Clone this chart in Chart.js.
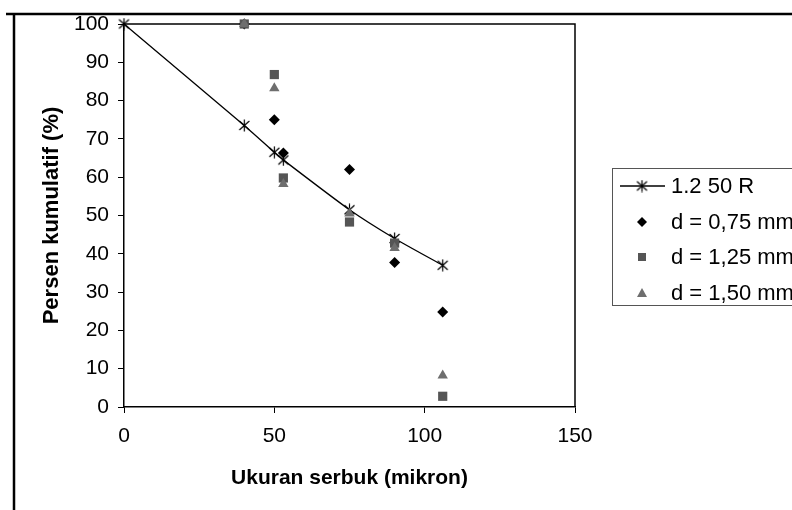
<!DOCTYPE html>
<html>
<head>
<meta charset="utf-8">
<script src="https://cdn.jsdelivr.net/npm/chart.js@4"></script>
<style>
  html, body { margin: 0; padding: 0; background: #fff; }
</style>
</head>
<body>
<canvas id="chart" width="792" height="510"></canvas>
<script>
// Cumulative percent vs powder size
const lineX = [0, 40, 50, 53, 75, 90, 106];
const lineY = [100, 73.5, 66.5, 64.5, 51.5, 44, 37];

const sieveX = [40, 50, 53, 75, 90, 106];
const d075 = [100, 75, 66.3, 62, 37.7, 24.8];
const d125 = [100, 86.8, 59.8, 48.3, 42.8, 2.8];
const d150 = [100, 83.2, 58.2, 50.5, 41.5, 8.2];

const seriesNames = ['1.2 50 R', 'd = 0,75 mm', 'd = 1,25 mm', 'd = 1,50 mm'];
const xTicks = [0, 50, 100, 150];

const FONT = "'Liberation Sans', Arial, sans-serif";

const toPoints = (xs, ys) => xs.map((x, i) => ({ x: x, y: ys[i] }));

// asterisk marker like the Excel "star"
function makeStar() {
  const c = document.createElement('canvas');
  c.width = 13; c.height = 13;
  const g = c.getContext('2d');
  g.strokeStyle = '#000';
  g.lineWidth = 1.2;
  g.beginPath();
  g.moveTo(6.5, 0.5); g.lineTo(6.5, 12.5);
  g.moveTo(1.5, 2); g.lineTo(11.5, 11);
  g.moveTo(11.5, 2); g.lineTo(1.5, 11);
  g.stroke();
  return c;
}
const star = makeStar();

const frame = {
  id: 'frame',
  beforeDatasetsDraw(chart) {
    const ctx = chart.ctx, a = chart.chartArea;
    ctx.save();
    ctx.strokeStyle = '#000';
    ctx.lineWidth = 1.5;
    ctx.beginPath();
    ctx.moveTo(a.left, a.top);
    ctx.lineTo(a.right, a.top);
    ctx.lineTo(a.right, a.bottom);
    ctx.stroke();
    ctx.restore();
  },
  afterDraw(chart) {
    const ctx = chart.ctx;
    ctx.save();
    // page frame lines
    ctx.strokeStyle = '#000';
    ctx.lineWidth = 2.5;
    ctx.beginPath();
    ctx.moveTo(6, 14); ctx.lineTo(792, 14);
    ctx.moveTo(14, 14); ctx.lineTo(14, 510);
    ctx.stroke();

    // legend box
    ctx.strokeStyle = '#555';
    ctx.lineWidth = 1;
    ctx.strokeRect(612.5, 168.5, 200, 137);

    const rows = [186, 222, 257, 293];
    const mx = 642;
    ctx.strokeStyle = '#000';
    ctx.lineWidth = 1.3;
    ctx.beginPath();
    ctx.moveTo(620, rows[0]); ctx.lineTo(665, rows[0]);
    ctx.stroke();
    ctx.drawImage(star, mx - 6.5, rows[0] - 6.5);

    ctx.fillStyle = '#000';
    ctx.beginPath();
    ctx.moveTo(mx, rows[1] - 5); ctx.lineTo(mx + 5, rows[1]);
    ctx.lineTo(mx, rows[1] + 5); ctx.lineTo(mx - 5, rows[1]);
    ctx.closePath(); ctx.fill();

    ctx.fillStyle = '#555';
    ctx.fillRect(mx - 4, rows[2] - 4, 8, 8);

    ctx.fillStyle = '#6e6e6e';
    ctx.beginPath();
    ctx.moveTo(mx, rows[3] - 5); ctx.lineTo(mx + 5, rows[3] + 4);
    ctx.lineTo(mx - 5, rows[3] + 4);
    ctx.closePath(); ctx.fill();

    ctx.fillStyle = '#000';
    ctx.font = '22px ' + FONT;
    ctx.textBaseline = 'middle';
    ctx.textAlign = 'left';
    seriesNames.forEach((n, i) => ctx.fillText(n, 671, rows[i] + 1));
    ctx.restore();
  }
};

new Chart(document.getElementById('chart'), {
  type: 'scatter',
  data: {
    datasets: [
      {
        label: seriesNames[0],
        data: toPoints(lineX, lineY),
        showLine: true,
        tension: 0.2,
        borderColor: '#000',
        borderWidth: 1.3,
        pointStyle: star,
        pointRadius: 6,
        clip: false,
        order: 4
      },
      {
        label: seriesNames[1],
        data: toPoints(sieveX, d075),
        pointStyle: 'rectRot',
        pointRadius: 5.5,
        backgroundColor: '#000',
        borderColor: '#000',
        borderWidth: 0,
        clip: false,
        order: 3
      },
      {
        label: seriesNames[2],
        data: toPoints(sieveX, d125),
        pointStyle: 'rect',
        pointRadius: 6.5,
        backgroundColor: '#555',
        borderColor: '#555',
        borderWidth: 0,
        clip: false,
        order: 2
      },
      {
        label: seriesNames[3],
        data: toPoints(sieveX, d150),
        pointStyle: 'triangle',
        pointRadius: 6,
        backgroundColor: '#6e6e6e',
        borderColor: '#6e6e6e',
        borderWidth: 0,
        clip: false,
        order: 1
      }
    ]
  },
  options: {
    responsive: false,
    animation: false,
    layout: { padding: { left: 0, top: 24, right: 217, bottom: 0 } },
    plugins: {
      legend: { display: false },
      tooltip: { enabled: false }
    },
    scales: {
      x: {
        type: 'linear',
        min: 0,
        max: 150,
        afterFit(s) { s.height = 103; },
        afterBuildTicks(s) { s.ticks = xTicks.map(v => ({ value: v })); },
        ticks: { color: '#000', font: { family: FONT, size: 21 }, padding: 11, maxRotation: 0 },
        grid: { drawOnChartArea: false, tickLength: 6, color: '#000' },
        border: { color: '#000', width: 1.5 },
        title: {
          display: true,
          text: 'Ukuran serbuk (mikron)',
          color: '#000',
          font: { family: FONT, size: 21, weight: 'bold' },
          padding: { top: 0, bottom: 19 }
        }
      },
      y: {
        min: 0,
        max: 100,
        afterFit(s) { s.width = 124; },
        ticks: { stepSize: 10, color: '#000', font: { family: FONT, size: 21 }, padding: 9 },
        grid: { drawOnChartArea: false, tickLength: 6, color: '#000' },
        border: { color: '#000', width: 1.5 },
        title: {
          display: true,
          text: 'Persen kumulatif (%)',
          color: '#000',
          font: { family: FONT, size: 22, weight: 'bold' },
          padding: { top: 39, bottom: 0 }
        }
      }
    }
  },
  plugins: [frame]
});
</script>
</body>
</html>
